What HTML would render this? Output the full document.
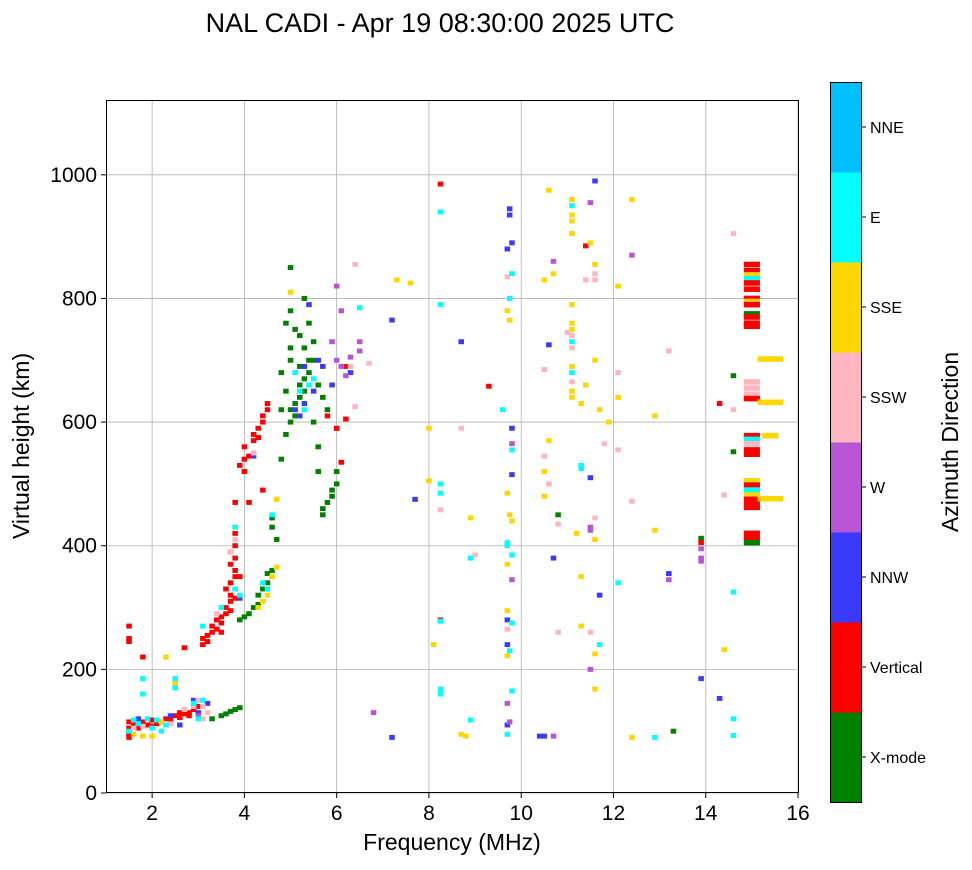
<!DOCTYPE html>
<html><head><meta charset="utf-8"><style>
body{margin:0;background:#fff;font-family:"Liberation Sans",sans-serif}
svg text{font-family:"Liberation Sans",sans-serif;fill:#000}
</style></head><body>
<svg id="chart" width="972" height="865" viewBox="0 0 972 865" xmlns="http://www.w3.org/2000/svg">
<text x="440" y="32" font-size="27" text-anchor="middle">NAL CADI - Apr 19 08:30:00 2025 UTC</text>
<g id="grid"></g>
<g id="marks"></g>
<rect x="106.5" y="100.5" width="692" height="692" fill="none" stroke="#000" stroke-width="1"/>
<g id="axes"></g>
<text x="452" y="850" font-size="23" text-anchor="middle">Frequency (MHz)</text>
<text transform="translate(29,446) rotate(-90)" font-size="23" text-anchor="middle">Virtual height (km)</text>
<g id="cbar"></g>
<text transform="translate(958,442) rotate(-90)" font-size="23" text-anchor="middle">Azimuth Direction</text>
</svg>
<script>
const xTicks=[2,4,6,8,10,12,14,16];
const yTicks=[0,200,400,600,800,1000];
const dirNames=["X-mode","Vertical","NNW","W","SSW","SSE","E","NNE"];
const dirColors=["#008000","#ff0000","#3a3aff","#b855d6","#ffb6c1","#ffd700","#00ffff","#00bfff"];
const xmode=[[3.3,120],[3.5,125],[3.6,128],[3.7,132],[3.8,135],[3.9,138],[1.5,100],[3.9,280],[4.0,285],[4.1,290],[4.2,300],[4.3,305],[4.3,320],[4.4,330],[4.5,340],[4.5,355],[4.6,360],[4.6,445],[4.7,410],[4.6,430],[4.8,540],[4.9,580],[5.0,600],[5.0,620],[5.1,610],[5.1,630],[5.2,640],[5.2,660],[5.3,650],[5.3,670],[5.4,680],[5.4,700],[5.0,700],[5.0,720],[4.9,760],[5.0,780],[5.1,750],[5.2,740],[5.3,720],[5.4,760],[5.5,730],[5.5,700],[4.8,680],[4.9,650],[5.5,600],[5.6,560],[5.6,520],[5.7,450],[5.7,460],[5.8,470],[5.9,480],[5.9,490],[6.0,500],[6.0,520],[6.0,590],[5.3,800],[5.0,850],[4.8,620],[5.6,660],[5.7,640],[5.8,620],[5.2,690],[10.8,450],[13.3,100],[13.9,412],[14.6,675],[14.6,552]];
const vertical=[[3.1,240],[3.1,250],[3.2,255],[3.3,260],[3.3,270],[3.4,265],[3.4,280],[3.5,275],[3.5,285],[3.6,290],[3.6,300],[3.7,295],[3.7,310],[3.7,320],[3.8,315],[3.8,330],[3.6,330],[3.7,340],[3.8,350],[3.8,360],[3.7,370],[3.8,380],[3.7,390],[3.8,400],[3.8,420],[3.8,470],[3.9,530],[4.0,540],[4.0,560],[4.1,545],[4.2,570],[4.2,580],[4.3,575],[4.3,590],[4.4,600],[4.4,610],[4.5,620],[4.5,630],[4.1,470],[4.4,490],[4.0,520],[1.5,245],[1.5,250],[1.5,270],[1.8,220],[2.7,235],[3.5,260],[3.2,245],[3.9,350],[1.5,115],[1.6,110],[1.7,105],[1.8,115],[1.9,110],[2.0,118],[2.1,112],[2.2,115],[2.3,120],[2.4,118],[2.5,125],[2.6,122],[2.7,128],[2.8,130],[2.9,135],[1.5,95],[1.5,105],[2.0,108],[2.6,130],[2.8,125],[3.0,140],[1.5,90],[6.2,690],[6.2,605],[6.1,535],[6.0,590],[5.8,610],[8.25,985],[8.25,280],[9.3,658],[11.4,885],[13.9,405],[14.3,630]];
const nnw=[[4.2,545],[3.9,315],[5.1,620],[5.2,610],[5.3,630],[5.5,650],[5.4,790],[5.6,700],[5.7,690],[5.9,660],[6.3,680],[5.3,690],[1.7,120],[2.4,125],[2.9,150],[3.0,130],[3.2,145],[2.6,110],[7.2,90],[7.7,475],[7.2,765],[8.7,730],[9.75,945],[9.75,935],[9.8,890],[9.7,880],[9.8,590],[9.8,515],[9.7,280],[9.7,240],[9.7,110],[10.6,725],[10.7,380],[10.5,92],[10.4,92],[11.6,990],[11.5,510],[11.7,320],[13.2,355],[13.9,185],[14.3,153]];
const west=[[5.9,730],[6.0,700],[6.1,690],[6.2,675],[6.3,705],[6.5,715],[6.0,820],[6.1,780],[6.5,730],[6.8,130],[3.0,125],[9.8,565],[9.8,345],[9.7,145],[9.75,115],[10.7,92],[10.7,860],[11.5,955],[11.5,430],[11.5,425],[11.5,200],[12.4,870],[13.2,345],[13.9,395],[13.9,380],[13.9,375]];
const ssw=[[3.7,390],[3.8,410],[4.2,550],[3.4,290],[6.4,855],[6.4,625],[6.7,695],[6.3,690],[1.6,105],[1.8,108],[2.4,112],[2.7,135],[2.9,140],[3.0,150],[3.1,140],[3.2,130],[3.1,120],[8.25,458],[8.7,590],[9.0,385],[9.7,835],[9.7,265],[10.5,685],[10.5,545],[10.6,500],[10.8,435],[10.8,260],[11.1,740],[11.1,720],[11.1,665],[11.4,830],[11.0,745],[11.6,830],[11.6,840],[11.6,445],[11.5,260],[11.8,565],[12.1,555],[12.1,680],[12.4,472],[13.2,715],[14.6,905],[14.6,620],[14.4,482]];
const sse=[[4.3,300],[4.4,310],[4.5,320],[4.6,350],[4.7,365],[4.7,475],[5.0,810],[7.3,830],[7.6,825],[1.6,95],[1.8,92],[2.0,92],[2.3,220],[2.5,178],[2.2,115],[8.0,590],[8.0,505],[8.1,240],[8.7,95],[8.8,92],[8.9,445],[9.7,780],[9.75,765],[9.7,485],[9.75,450],[9.8,440],[9.7,370],[9.7,295],[9.7,222],[10.6,975],[10.5,830],[10.6,570],[10.5,520],[10.5,480],[10.7,840],[11.1,960],[11.1,935],[11.1,925],[11.1,905],[11.1,790],[11.1,760],[11.1,750],[11.1,690],[11.1,650],[11.1,640],[11.2,420],[11.3,350],[11.3,270],[11.5,890],[11.4,660],[11.3,630],[11.6,855],[11.6,700],[11.7,620],[11.6,410],[11.6,225],[11.6,168],[11.9,600],[12.1,820],[12.1,640],[12.4,960],[12.4,90],[12.9,610],[12.9,425],[14.4,232]];
const east=[[3.1,270],[3.5,300],[3.8,330],[3.9,320],[3.8,430],[4.5,330],[4.4,340],[4.6,450],[5.2,650],[5.3,620],[5.4,660],[5.5,670],[5.1,680],[6.5,785],[1.5,100],[1.6,118],[1.7,112],[1.9,120],[2.1,118],[2.3,110],[2.5,185],[2.5,170],[1.8,185],[1.8,160],[2.0,105],[2.2,100],[3.0,120],[3.1,150],[2.9,145],[8.25,940],[8.25,790],[8.25,500],[8.25,485],[8.25,278],[8.25,168],[8.25,160],[8.9,380],[8.9,118],[9.6,620],[9.8,840],[9.75,800],[9.8,555],[9.7,405],[9.7,400],[9.8,385],[9.8,275],[9.75,230],[9.8,165],[9.7,95],[11.1,950],[11.1,730],[11.1,680],[11.3,530],[11.3,525],[11.7,240],[12.1,340],[12.9,90],[14.6,325],[14.6,120],[14.6,93]];
const nne=[];
const colFreq=[15.0,15.0,15.0,15.0,15.0,15.0,15.0,15.0,15.0,15.0,15.0,15.0,15.0,15.0,15.0,15.0,15.0,15.0,15.0,15.0,15.0,15.0,15.0,15.0,15.0,15.0,15.0,15.0,15.0,15.0,15.0,15.0,15.3,15.5,15.3,15.5,15.4,15.3,15.5];
const colHeight=[855,845,838,832,825,815,800,795,790,775,770,760,755,665,655,645,638,578,572,565,555,548,505,498,490,482,475,468,462,420,412,405,702,702,632,632,578,476,476];
const colDir=[1,1,5,6,1,1,1,5,1,0,1,1,1,4,4,4,1,1,6,4,1,1,5,1,6,5,1,1,1,1,1,0,5,5,5,5,5,5,5];

const X0=106,X1=798,Y0=793,Y1=100,fmin=1,fmax=16,hmin=0,hmax=1121;
const sx=f=>X0+(f-fmin)/(fmax-fmin)*(X1-X0);
const sy=h=>Y0-(h-hmin)/(hmax-hmin)*(Y0-Y1);
const NS="http://www.w3.org/2000/svg";
function mk(tag,attrs,parent){const e=document.createElementNS(NS,tag);for(const k in attrs)e.setAttribute(k,attrs[k]);parent.appendChild(e);return e;}
const grid=document.getElementById('grid'),axes=document.getElementById('axes'),marks=document.getElementById('marks'),cbar=document.getElementById('cbar');
xTicks.forEach(t=>{const x=sx(t);
 const l=mk('line',{x1:x,x2:x,y1:Y1,y2:Y0,stroke:'#b0b0b0','stroke-width':0.8},grid);
 
 
 const tk=mk('line',{x1:x,x2:x,y1:Y0,y2:Y0+5,stroke:'#000'},axes);
 
 
 const tx=mk('text',{x:x,y:Y0+27,'font-size':21,'text-anchor':'middle'},axes);tx.textContent=t;
 
 
});
yTicks.forEach(t=>{const y=sy(t);
 const l=mk('line',{x1:X0,x2:X1,y1:y,y2:y,stroke:'#b0b0b0','stroke-width':0.8},grid);
 
 
 const tk=mk('line',{x1:X0-5,x2:X0,y1:y,y2:y,stroke:'#000'},axes);
 
 
 const tx=mk('text',{x:X0-9,y:y+7,'font-size':21,'text-anchor':'end'},axes);tx.textContent=t;
 
 
});
const CW=0.12,CH=8;
function drawSet(arr,di){arr.forEach(p=>{
 const x=sx(p[0]-CW/2),y=sy(p[1]+CH/2);
 const r=mk('rect',{x:x,y:y,width:sx(p[0]+CW/2)-x,height:sy(p[1]-CH/2)-y,fill:dirColors[di]},marks);
 
 
});}
[xmode,vertical,nnw,west,ssw,sse,east,nne].forEach((a,i)=>drawSet(a,i));
const WW=0.35,WH=9;
colFreq.forEach((f,i)=>{
 const x=sx(f-WW/2),y=sy(colHeight[i]+WH/2);
 const r=mk('rect',{x:x,y:y,width:sx(f+WW/2)-x,height:sy(colHeight[i]-WH/2)-y,fill:dirColors[colDir[i]]},marks);
 
 
});
const CB_X=830,CB_W=31,CB_TOP=82,CB_BOT=802,seg=(CB_BOT-CB_TOP)/dirNames.length;
dirNames.forEach((n,i)=>{
 const yb=CB_BOT-(i+1)*seg;
 const r=mk('rect',{x:CB_X,y:yb,width:CB_W,height:seg+0.5,fill:dirColors[i]},cbar);
 
 
 const yc=yb+seg/2;
 const tk=mk('line',{x1:CB_X+CB_W,x2:CB_X+CB_W+5,y1:yc,y2:yc,stroke:'#000'},cbar);
 
 
 const tx=mk('text',{x:CB_X+CB_W+9,y:yc+6,'font-size':16},cbar);tx.textContent=n;
 
 
});
const fr=mk('rect',{x:CB_X+0.5,y:CB_TOP+0.5,width:CB_W,height:CB_BOT-CB_TOP,fill:'none',stroke:'#000'},cbar);


</script>
</body></html>
